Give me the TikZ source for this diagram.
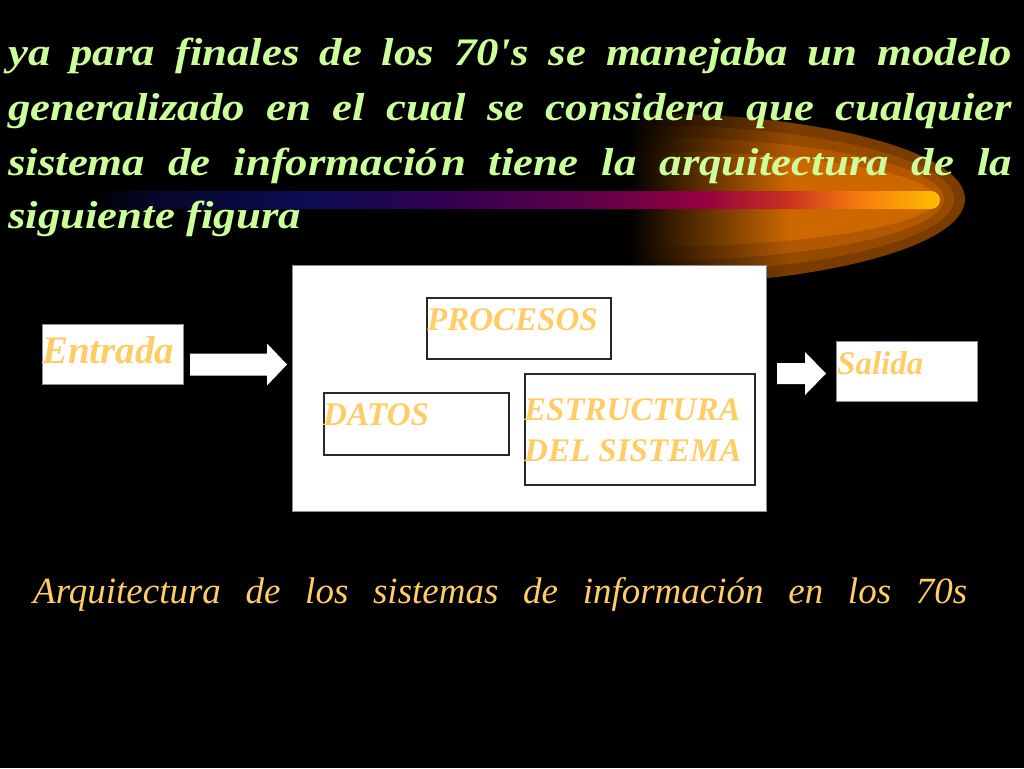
\documentclass[tikz,border=0pt]{standalone}
\usepackage{fontspec}
\setmainfont{Liberation Serif}
\newfontfamily\titlefont[FakeStretch=1.15]{Liberation Serif}
\usetikzlibrary{calc}
\definecolor{titlegreen}{RGB}{204,255,153}
\definecolor{labelorange}{RGB}{255,204,102}
\definecolor{boxgray}{RGB}{140,140,140}
\definecolor{innerline}{RGB}{40,40,40}
\definecolor{bc1}{RGB}{6,6,40}
\definecolor{bc2}{RGB}{12,12,85}
\definecolor{bc3}{RGB}{50,0,80}
\definecolor{bc4}{RGB}{100,0,72}
\definecolor{bc5}{RGB}{150,0,64}
\definecolor{bc6}{RGB}{200,48,32}
\definecolor{bc7}{RGB}{245,120,16}
\definecolor{bc8}{RGB}{255,190,0}
\definecolor{glowa}{RGB}{122,60,0}
\definecolor{glowb}{RGB}{150,74,0}
\definecolor{glowc}{RGB}{178,88,0}
\definecolor{glowd}{RGB}{205,104,0}
\pgfdeclarehorizontalshading{barshade}{100bp}{color(0bp)=(black); color(25bp)=(black); color(28.5bp)=(bc1); color(37.5bp)=(bc2); color(46bp)=(bc3); color(55bp)=(bc4); color(61bp)=(bc5); color(66bp)=(bc6); color(70bp)=(bc7); color(75bp)=(bc8); color(100bp)=(bc8)}
\tikzset{
  outerbox/.style={draw=boxgray, line width=1pt, fill=white, inner sep=0pt, anchor=north west},
  innerbox/.style={draw=innerline, line width=1.5pt, fill=white, inner sep=0pt, anchor=north west},
  lbl/.style={text=labelorange, inner sep=0pt, anchor=base west, font=\bfseries\itshape\fontsize{33}{41}\selectfont},
  titleline/.style={text=titlegreen, inner sep=0pt, anchor=base west, font=\titlefont\bfseries\itshape\fontsize{39}{47}\selectfont},
  blockarrow/.style={fill=white}
}
\begin{document}
\begin{tikzpicture}[x=1pt,y=-1pt]
\useasboundingbox (0,0) rectangle (1024,768);
\fill[black] (0,0) rectangle (1024,768);
% glow
\begin{scope}
  \clip (628,0) rectangle (1024,768);
  \foreach \a/\b/\c in {325/86/glowa, 314/74/glowb, 304/62/glowc, 296/48/glowd} {
    \begin{scope}
      \clip (640,199) ellipse [x radius=\a, y radius=\b];
      \shade[left color=black, right color=\c] (628,100) rectangle (790,300);
      \fill[\c] (789,100) rectangle (975,300);
    \end{scope}
  }
\end{scope}
% bar
\shade[shading=barshade, rounded corners=9pt] (90,191) rectangle (940,209);
% title
\node[titleline] (t1) at (8,66) {\makebox[1004pt][s]{ya para finales de los 70's se manejaba un modelo}};
\node[titleline] (t2) at (8,120) {\makebox[1004pt][s]{generalizado en el cual se considera que cualquier}};
\node[titleline] (t3) at (8,175) {\makebox[1004pt][s]{sistema de informació\kern3pt n tiene la arquitectura de la}};
\node[titleline] (t4) at (8,228) {siguiente figura};
% diagram
\node[outerbox, minimum width=141, minimum height=60] (entrada) at (42,324) {};
\node[lbl, font=\bfseries\itshape\fontsize{39}{45}\selectfont] (entradat) at (42,363) {Entrada};
\node[outerbox, minimum width=474, minimum height=246] (sistema) at (292,265) {};
\node[innerbox, minimum width=184, minimum height=61] (procesos) at (426,297) {};
\node[lbl] (procesost) at (427,330) {PROCESOS};
\node[innerbox, minimum width=185, minimum height=62] (datos) at (323,392) {};
\node[lbl] (datost) at (323,425) {DATOS};
\node[innerbox, minimum width=230, minimum height=111] (estructura) at (524,373) {};
\node[lbl] (estructurat1) at (524,420) {ESTRUCTURA};
\node[lbl] (estructurat2) at (524,461) {DEL SISTEMA};
\node[outerbox, minimum width=141, minimum height=60] (salida) at (836,341) {};
\node[lbl] (salidat) at (837,374) {Salida};
% block arrows
\coordinate (a1s) at ($(entrada.east)+(6,10)$);
\coordinate (a1t) at ($(sistema.west |- a1s)+(-5,0)$);
\fill[blockarrow] ($(a1s)+(0,-11)$) -- ($(a1t)+(-20,-11)$) -- ($(a1t)+(-20,-21)$) -- (a1t) -- ($(a1t)+(-20,21)$) -- ($(a1t)+(-20,11)$) -- ($(a1s)+(0,11)$) -- cycle;
\coordinate (a2s) at ($(sistema.east)+(10,-15)$);
\coordinate (a2t) at ($(salida.west |- a2s)+(-10,0)$);
\fill[blockarrow] ($(a2s)+(0,-10.5)$) -- ($(a2t)+(-21,-10.5)$) -- ($(a2t)+(-21,-21.5)$) -- (a2t) -- ($(a2t)+(-21,21.5)$) -- ($(a2t)+(-21,10.5)$) -- ($(a2s)+(0,10.5)$) -- cycle;
% caption
\node[inner sep=0pt, anchor=base west, text=labelorange, font=\itshape\fontsize{37}{44}\selectfont] (caption) at (33,603) {\makebox[934pt][s]{Arquitectura de los sistemas de información en los 70s}};
\end{tikzpicture}
\end{document}
